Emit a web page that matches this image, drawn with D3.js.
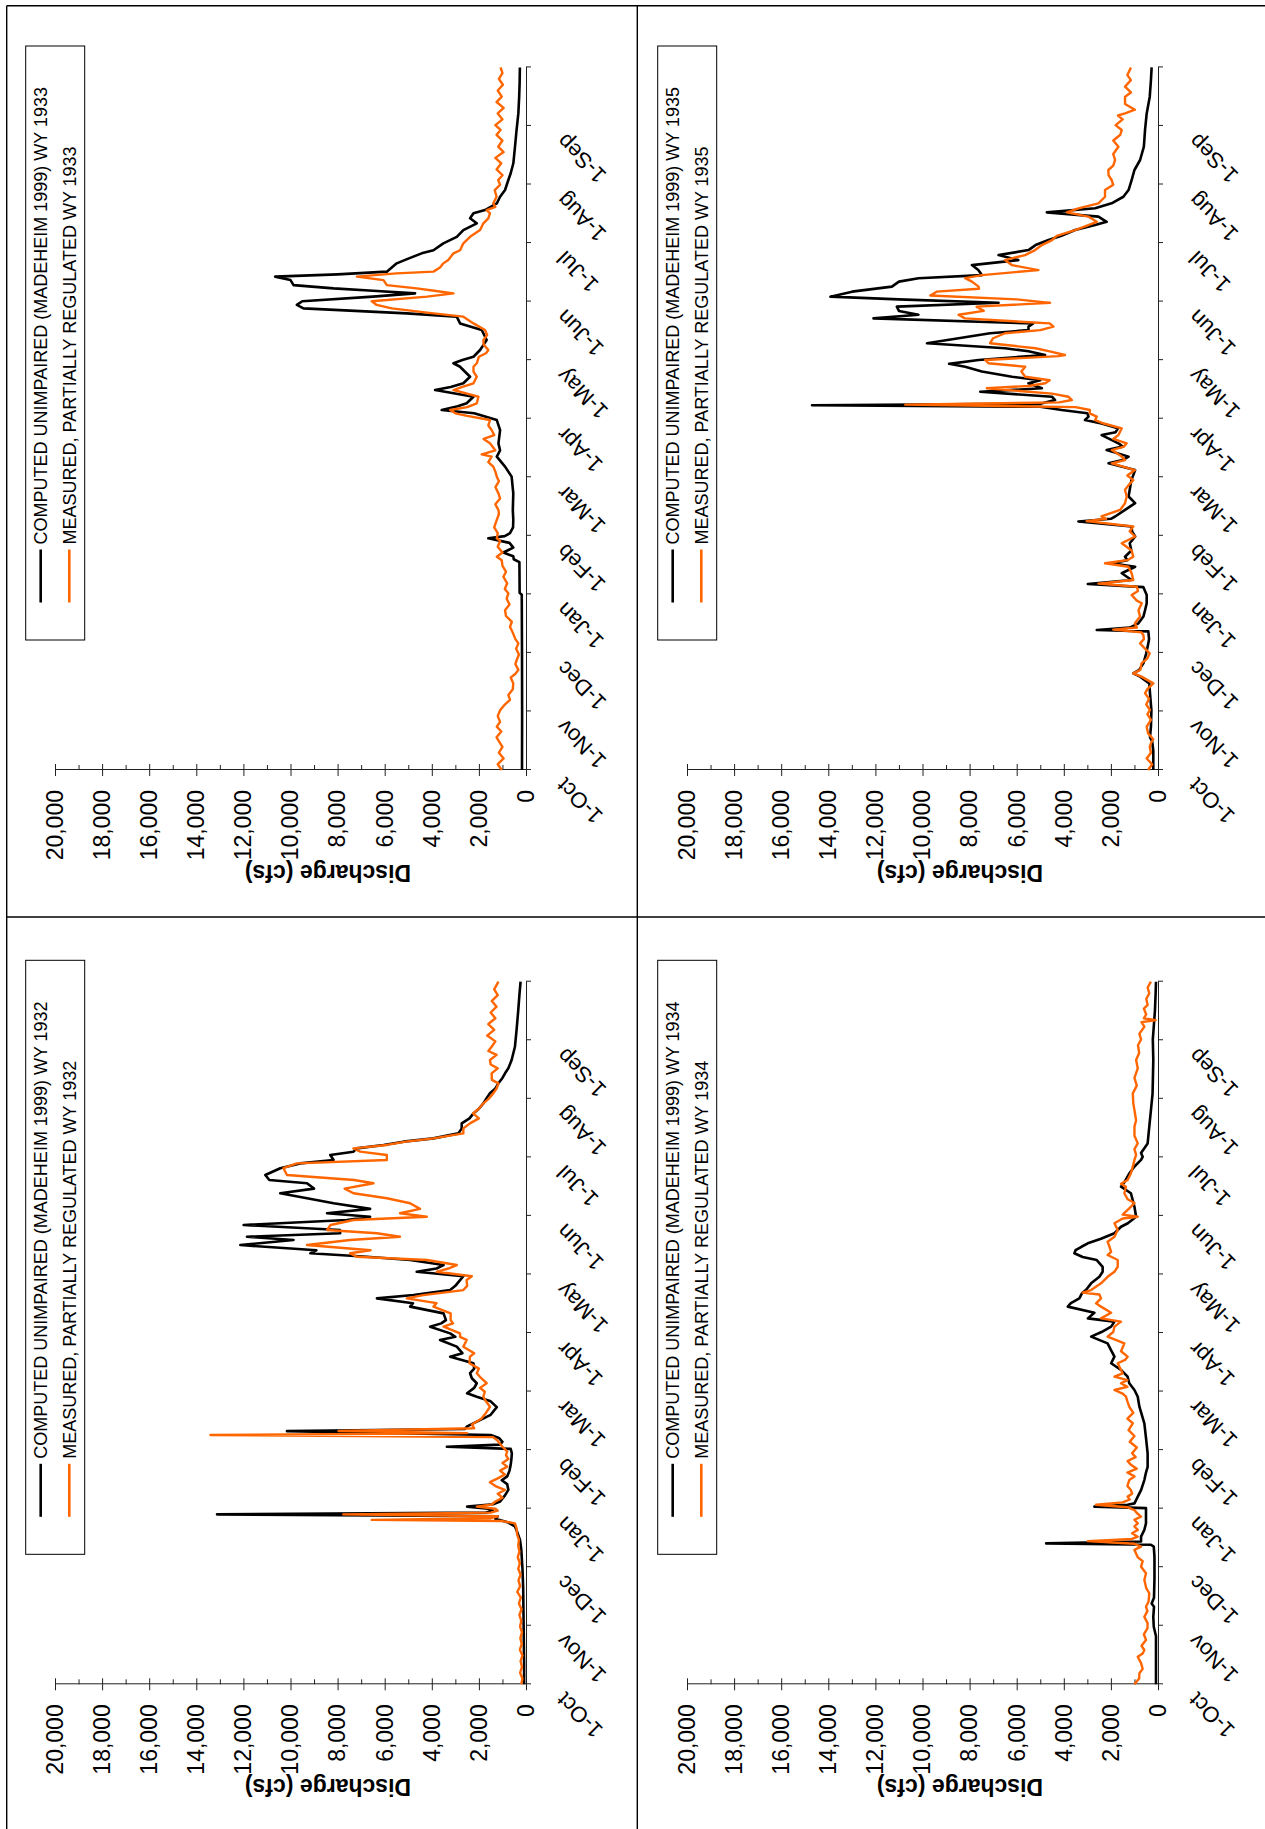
<!DOCTYPE html>
<html>
<head>
<meta charset="utf-8">
<script src="https://cdn.jsdelivr.net/npm/d3@7"></script>
<style>
  body { margin: 0; background: #fff; }
  svg { display: block; font-family: "Liberation Sans", Arial, sans-serif; }
</style>
</head>
<body>
<div id="chart"></div>
<script>
// daily discharge, [day of water year (0 = 1-Oct), cfs]
var unimpaired1932 = [[0,80],[10,80],[20,90],[30,100],[40,110],[50,120],[60,150],[70,200],[75,255],[80,400],[82,470],[84,750],[86,1300],[87.3,1200],[88.3,13120],[89.2,1700],[90.2,1400],[91.2,1600],[92.3,2500],[93.5,1400],[95,1100],[98,900],[101,750],[104,800],[106,1030],[108,800],[111,700],[114,650],[117,620],[120,600],[122.3,650],[123.4,3360],[124.5,1100],[126,1000],[128,1150],[129.5,1500],[131.5,10150],[132.6,2600],[134,2500],[137,2000],[140,1500],[144,1240],[147,1500],[149.4,2090],[151.2,2500],[154,2200],[156.4,2090],[159,2300],[161.6,2375],[164,2200],[166.8,2233],[170.2,3220],[172,2700],[175.4,2940],[178.9,3650],[180.5,3000],[182.3,3220],[185.8,4070],[187.5,3600],[189.2,3400],[192.7,3500],[196.2,4920],[198,4800],[200.5,6330],[202.2,4780],[204.8,3220],[207,3000],[210,2800],[212,2660],[214.3,4640],[216,3800],[217.8,3500],[220.4,4920],[222.1,6760],[223.9,9160],[225.5,8900],[228.2,12130],[230.8,9870],[232.5,11850],[234.3,7890],[236,7900],[238.6,11990],[241.2,7610],[242.9,6620],[244.7,8450],[247,6620],[249.9,8170],[252.5,9300],[255.1,10435],[257.5,9000],[260.3,9300],[262,10900],[264.6,11070],[268.1,10435],[270.6,9590],[272.4,8170],[275,8310],[276.7,7325],[278.4,7180],[280.2,6050],[281.9,5200],[283.6,3930],[286.2,2870],[288.8,2730],[291.4,2730],[294,2400],[296.6,2230],[299,2000],[301.8,1810],[304,1700],[307,1530],[309.5,1300],[312.2,1170],[315,1000],[317.4,890],[320,750],[324.3,610],[331.2,470],[340,400],[350,330],[358,280],[365,230]];

var measured1932 = [[0,200],[3,150],[6,250],[9,170],[12,230],[15,150],[18,260],[21,180],[24,240],[27,170],[30,250],[33,200],[36,280],[39,190],[42,300],[45,220],[48,370],[51,250],[54,320],[57,230],[60,330],[63,260],[66,350],[69,280],[72,330],[75,300],[78,380],[81,400],[83.6,470],[84.8,1000],[85.4,6550],[86.3,1500],[87.3,1200],[88.3,7760],[89.2,1500],[90.2,1200],[91.2,1300],[92.3,2090],[93.4,1450],[95,1300],[97,1000],[99,1200],[101,900],[103,1300],[105,1530],[107,1200],[109,900],[111,1100],[113,800],[115,1000],[117,750],[119,850],[121,800],[123.4,1000],[125,1100],[126.9,1240],[128.4,1400],[129.5,13400],[130.5,2500],[131.6,7960],[133,2200],[135,2300],[138,1900],[141,1700],[144.2,1530],[147,1700],[149.4,1810],[152,1750],[154,1950],[156.4,1670],[159,1900],[161.6,2090],[164,2000],[166.8,2400],[170.2,2380],[172,2200],[175.4,2660],[178.9,2520],[180.5,2800],[182.3,2800],[185.8,3500],[187.5,3100],[189.2,3200],[192.7,3200],[196.2,3930],[198,3800],[200.5,5060],[202.2,4360],[204.8,2660],[207,2500],[210,2520],[212,2300],[214.3,3790],[216,3300],[217.8,2940],[220.4,4200],[222.1,7180],[223.9,7470],[225.5,6600],[228.2,9300],[230.8,7470],[232.5,5350],[234.3,6330],[236,8450],[238.6,8300],[241.2,7325],[242.9,4210],[244.7,5350],[247,4500],[249.9,4920],[252.5,5910],[255.1,7325],[257.5,7700],[260.3,6475],[262,7300],[264.6,10150],[268.1,10300],[270.6,9730],[272.4,5910],[275,5910],[276.7,7040],[278.4,7325],[280.2,5900],[281.9,5100],[283.6,3930],[286.2,2660],[288.8,2660],[291.4,2380],[294,2000],[296.6,2250],[299,2000],[301.8,1810],[304,1600],[307,1390],[309.5,1250],[312.2,1170],[314,1450],[317.4,1460],[320,1200],[322,1500],[324.3,1530],[327,1250],[329,1600],[331.2,1460],[334,1300],[337,1650],[340,1350],[343,1600],[346,1300],[349,1500],[352,1250],[355,1450],[358,1200],[361,1350],[365,1170]];

var unimpaired1933 = [[0,170],[30,165],[60,170],[91,180],[92,270],[108,280],[109.5,520],[111,540],[113,960],[115.5,540],[118,700],[120.4,1600],[121.5,900],[123,680],[126,550],[130,540],[135,560],[143.7,540],[152.4,610],[157.6,890],[162.8,1240],[166,1100],[169.7,1170],[176.6,1100],[181.8,1240],[185.3,2200],[187,3580],[189,2900],[190.5,2520],[193.9,2230],[197.4,3860],[199,3200],[200.9,2660],[204.3,2375],[207,2600],[209.5,2800],[211.3,3080],[213,2700],[214.7,2230],[218.2,1950],[221,1800],[223.4,1670],[228.6,1880],[232,2800],[235.5,2940],[237.2,5060],[239.8,9450],[241.6,9730],[243.5,9500],[245.9,6500],[247.6,4710],[249,6500],[250.2,8170],[251.9,9870],[254.5,10000],[256.3,10650],[257.5,8000],[258.9,5910],[261,5700],[263.2,5490],[265,5130],[268.4,4430],[270,3930],[273.6,3510],[277,2940],[280.5,2660],[284,2090],[286.6,2375],[289.2,2230],[290.9,1740],[294.4,1240],[297.8,1100],[301.3,890],[306.5,750],[310,650],[315.2,537],[323.8,467],[332.5,400],[341.1,325],[349.8,290],[357,270],[365,260]];

var measured1933 = [[0,1030],[3,1200],[6,950],[9,1150],[12,1000],[14,1100],[17,1250],[20,1050],[22.5,1240],[25,1100],[28,1200],[31,1100],[34,900],[36.4,680],[39,750],[42,560],[45,540],[48,650],[50,450],[52,325],[55,450],[57,400],[60,300],[63,420],[65.8,325],[68,450],[71,550],[74.4,680],[77,600],[80,850],[83,890],[86,700],[89,820],[91.8,750],[94,900],[97,800],[100.4,960],[103,850],[106,1000],[109,1030],[110.8,1240],[113,1000],[116,1200],[119,1100],[120.4,1240],[123,1200],[126,1350],[129.9,1240],[133,1150],[135,1170],[138,1300],[141,1100],[143.7,1170],[147,1300],[150,1150],[152.4,1240],[155,1300],[157.6,1390],[160,1600],[162.8,1460],[164,1880],[166,1300],[169.7,1530],[172,1800],[174,1350],[176.6,1460],[179,1600],[181.8,1530],[184,2500],[185.3,3000],[187,3220],[188.5,2500],[190.5,2090],[193.9,2020],[195.5,2500],[197.4,3080],[199,2700],[200.9,2230],[204.3,2090],[207,2230],[209.5,2230],[211.3,2090],[214.7,2000],[216.5,1700],[218.2,1600],[221,1800],[223.4,1810],[226,1650],[228.6,1740],[232,2230],[235.5,2660],[237.2,3930],[239.8,5700],[241.6,6340],[243.5,6550],[245.9,4200],[247.6,3080],[249,3900],[250.2,4640],[251.9,5910],[254.5,6050],[256.3,7180],[258,5500],[258.9,3930],[261,3650],[263.2,3510],[265,3300],[268.4,3080],[270,2800],[273.6,2660],[277,2375],[280.5,1950],[284,1810],[286.6,1600],[289.2,1530],[290.9,1670],[292.5,1300],[294.4,1390],[297.8,1250],[301.3,1330],[304,1100],[306.5,1180],[309,1000],[312,1250],[315.2,1050],[318,1300],[321,950],[323.8,1180],[327,1000],[330,1250],[332.5,1080],[335,1300],[338,1000],[341.1,1200],[344,950],[347,1250],[349.8,1030],[353,1200],[356,980],[359,1150],[362,1000],[365,1080]];

var unimpaired1934 = [[0,85],[15,85],[25,85],[29.9,180],[35,200],[40.3,170],[42,270],[45,170],[55,150],[66.3,150],[71.5,180],[72.5,300],[73.2,4750],[74.2,720],[76.7,720],[80.2,580],[83.6,510],[87.1,510],[91.5,510],[92.3,2700],[93.3,1290],[94,1000],[97.5,860],[100.9,720],[106.1,580],[110,510],[113,440],[120,440],[128,510],[135.6,580],[144.2,790],[149.4,860],[152.9,1000],[156.4,1220],[159.8,1290],[163.3,1570],[166.8,1990],[170.2,1850],[173.5,1990],[177.1,2140],[180.6,2840],[183,2400],[185.8,1990],[188.4,1850],[190.1,2980],[193,2700],[196.2,3830],[198,3700],[200.5,3340],[203.1,3230],[205,3050],[208.3,2840],[211.7,2490],[214.3,2350],[216.9,2350],[220.4,2600],[222,3200],[223.9,3550],[225.5,3500],[227.3,3250],[229.1,2980],[231.5,2420],[234.3,1850],[237.7,1570],[239.5,1280],[242.9,930],[248.1,1000],[255.1,1150],[258.5,1570],[261,1420],[265.5,1210],[269,1000],[272.4,720],[274,650],[276,720],[281,440],[289.7,370],[298.3,300],[307,230],[324.3,200],[335,220],[341.6,180],[350,130],[359,100],[365,85]];

var measured1934 = [[0,1000],[3,800],[5.7,790],[8,650],[11,720],[14.3,860],[16,650],[17.8,580],[20,700],[23,510],[26,600],[29,450],[31.7,440],[35,580],[38,450],[40.3,510],[43,400],[47.3,370],[50,500],[54.2,580],[57.7,510],[61.1,720],[64,650],[66,860],[69.8,1000],[71.5,720],[73,1000],[74.4,2980],[75.5,1100],[76.7,860],[78.5,1100],[80.2,860],[82,1000],[83.6,860],[85.5,1000],[87.1,720],[89,900],[90.5,1000],[92,1300],[93.3,2630],[94.5,1500],[96,1200],[97.5,1290],[99,1100],[100.9,1150],[103,1300],[106.1,1220],[108,1000],[110,1300],[112,900],[114,1150],[116,1290],[118,950],[120,1100],[123,900],[126,1200],[129,1000],[132,1250],[135.6,1070],[138,1300],[141,1050],[144.2,1220],[147,1300],[149.4,1360],[151,1500],[152.9,1850],[154.5,1300],[156.4,1570],[158,1300],[159.8,1850],[161.5,1500],[163.3,1570],[166.8,1710],[168.5,1400],[170.2,1290],[173,1570],[175,1500],[177.1,1430],[180.6,2140],[183,1900],[185.8,1850],[188.4,1570],[190.1,2420],[193,1990],[196.2,2420],[197.9,2630],[200.5,2420],[202.5,2490],[203.5,3200],[204.8,2840],[208.3,2420],[211.7,2140],[214.3,1850],[216.9,1710],[220.4,1710],[223,2140],[224.7,1990],[227.3,2060],[229.9,2140],[232.5,1850],[236,1710],[239.5,1850],[242,1500],[242.9,860],[244,1500],[247.3,1220],[250,1000],[252,1290],[255.1,1430],[258.5,1360],[260,1570],[262,1290],[265.5,1150],[268.9,1070],[272.4,1000],[275,930],[278,1000],[281,860],[285,1000],[289.7,1000],[293,930],[298.3,1000],[302,1050],[307,1070],[311,900],[315,1000],[320,860],[324.3,930],[328,800],[332,850],[335,720],[338,790],[341.6,580],[344,700],[345,100],[346,600],[348,500],[351,600],[353,440],[356,500],[359,370],[362,440],[365,300]];

var unimpaired1935 = [[0,200],[5,200],[10,200],[15,250],[17,340],[22.5,300],[31,280],[40,340],[45,370],[48.5,760],[50.2,1050],[52,800],[55.4,620],[60.6,500],[65.8,410],[68,380],[72,410],[72.7,2600],[74,1200],[76.2,830],[79.7,620],[83,550],[86.6,480],[90.9,480],[95,620],[96.6,2980],[98.7,1120],[102.2,1540],[105.6,970],[107.4,1970],[109,1300],[110.8,1400],[114,1130],[117.8,1200],[121.3,970],[124,1100],[126.5,1130],[129.1,3380],[130.5,2000],[131.7,1820],[135.1,1400],[138.6,970],[142.1,1250],[145.6,1200],[150.6,1130],[155.8,970],[159.3,2100],[161,1500],[162.8,1250],[166.2,2180],[168,1500],[169.7,1680],[174,2390],[175.5,1800],[177.5,1700],[180,2400],[181.8,3100],[183.6,2950],[185.3,3000],[187,4090],[188.7,5000],[189.5,14690],[190.3,5000],[192.2,4370],[193.9,4500],[196.5,7550],[198.3,4930],[200.9,5500],[202.5,5000],[204.3,6200],[207,7480],[209.5,8190],[211,8870],[213,7620],[215.6,4790],[217.5,5500],[219.1,6490],[221.7,9810],[224.3,8470],[226.9,7130],[228.5,5500],[230.3,5500],[232,5300],[234.6,12080],[236.5,10170],[238.5,11000],[240.7,11090],[242.7,6770],[244.5,11000],[245.9,13910],[248.5,12990],[251.1,11300],[253.7,11000],[255.5,10170],[257.1,7480],[259.7,7630],[262.3,7900],[264.9,5930],[267.5,6770],[270.1,5500],[272.7,5200],[275.3,4650],[277.5,4100],[280.5,3520],[283.1,2670],[284.8,2180],[287.5,2530],[289.7,4720],[291.8,2670],[294.4,1970],[297.8,1470],[301.3,1250],[306.5,1120],[311.7,1000],[316.9,760],[323.8,600],[332.5,550],[341.1,480],[349.8,350],[358.4,300],[365,270]];

var measured1935 = [[0,420],[3,250],[6,480],[9,300],[12,350],[13.9,300],[16,200],[19,420],[22.5,480],[26,300],[29,450],[31.2,340],[34,500],[37,380],[39.8,550],[42,450],[45,200],[48.5,700],[50.2,1050],[52,750],[55.4,700],[58,450],[60.6,350],[63,550],[65.8,760],[68,600],[70,620],[71.5,700],[72.9,1900],[74,900],[76.2,980],[79.7,760],[83,830],[86.6,690],[88,900],[90.9,1120],[93,850],[95.2,900],[96.8,2530],[98.7,1050],[102.2,1120],[105.6,1260],[107.4,2250],[109,1300],[110.8,1050],[114,1120],[117.8,1540],[121.3,970],[124,1200],[126.5,1050],[129.3,3030],[130.5,2200],[131.7,2400],[135.1,1610],[138.6,1400],[142.1,1330],[145.6,1400],[148,1250],[150.6,1050],[153,1300],[155.8,980],[159.3,1960],[161,1400],[162.8,1540],[166.2,1960],[168,1450],[169.7,1330],[172,1900],[174,1680],[177.5,1540],[180,2300],[181.8,2670],[183.6,2600],[185.3,2900],[187,2890],[188.5,3500],[189.8,10730],[191,4200],[192.2,3660],[193.9,3800],[195.5,4500],[198.3,7270],[199.5,5500],[200.9,4790],[202.5,4600],[204.3,5640],[207,5800],[209.5,5640],[211.3,7200],[213,7340],[215,4230],[215.6,3950],[217.5,4600],[219.1,5200],[221.7,7130],[224.3,7000],[226.9,6500],[228.5,5000],[230.3,4440],[232,4600],[234.6,8200],[236.5,8470],[238.5,7400],[240.7,7700],[242.7,4580],[244.5,6000],[246.5,9670],[248.5,9400],[250,7600],[251.1,7620],[253.7,7900],[255.5,8190],[257.1,7480],[259.7,5080],[262.3,6210],[264.9,6500],[267.5,5640],[270.1,5220],[272.7,4930],[275.3,4500],[277.5,4300],[280.5,3520],[283.1,2960],[284.8,2600],[287.5,2960],[289.7,3870],[291.8,3380],[294.4,2530],[297.8,2250],[301.3,2250],[304,1900],[306.5,1970],[309,2100],[311.7,2110],[314,1900],[316.9,1820],[320,1900],[323.8,1680],[327,1900],[330,1600],[332.5,1540],[335,1800],[338,1500],[340,1700],[341.1,1400],[343,980],[346,1400],[349.8,1400],[352,1150],[355,1400],[358.4,1150],[361,1300],[365,1150]];

var monthLabels = ["1-Oct", "1-Nov", "1-Dec", "1-Jan", "1-Feb", "1-Mar", "1-Apr", "1-May", "1-Jun", "1-Jul", "1-Aug", "1-Sep"];
var dischargeTicks = [0, 2000, 4000, 6000, 8000, 10000, 12000, 14000, 16000, 18000, 20000];

// the page is laid out landscape (2 x 2 panels) and then turned a quarter left
var pageW = 1829;
var colX = [0, 914.3], rowY = [0, 632];
var plot = { left: 144.7, right: 847.3, top: 55, bottom: 526 };

var svg = d3.select("#chart")
    .append("svg")
    .attr("width", 1265)
    .attr("height", 1829);

var page = svg.append("g")
    .attr("transform", "translate(0," + pageW + ") rotate(-90)");

var panels = [
    { year: 1932, col: 0, row: 0, unimp: unimpaired1932, meas: measured1932 },
    { year: 1933, col: 1, row: 0, unimp: unimpaired1933, meas: measured1933 },
    { year: 1934, col: 0, row: 1, unimp: unimpaired1934, meas: measured1934 },
    { year: 1935, col: 1, row: 1, unimp: unimpaired1935, meas: measured1935 }
];

var x = d3.scaleLinear().domain([0, 365]).range([plot.left, plot.right]);
var y = d3.scaleLinear().domain([0, 20000]).range([plot.bottom, plot.top]);

var line = d3.line()
    .x(function (d) { return x(d[0]); })
    .y(function (d) { return y(d[1]); });

panels.forEach(function (p) {
    var g = page.append("g")
        .attr("transform", "translate(" + colX[p.col] + "," + rowY[p.row] + ")");

    // date axis, ticks every twelfth of the year
    var xAxis = d3.axisBottom(x)
        .tickValues(d3.range(13).map(function (i) { return i * 365 / 12; }))
        .tickSize(5)
        .tickSizeOuter(0)
        .tickFormat(function (d, i) { return i < 12 ? monthLabels[i] : ""; });
    g.append("g")
        .attr("transform", "translate(0," + plot.bottom + ")")
        .attr("font-size", null).attr("font-family", null)
        .call(xAxis)
        .call(function (s) {
            s.selectAll("path, line").attr("stroke", "#222");
            s.selectAll("text")
                .attr("x", 0).attr("y", 0).attr("dy", null)
                .attr("transform", "translate(-7,40) rotate(-45)")
                .style("text-anchor", "end")
                .style("font-size", "22px")
                .attr("fill", "#000");
        });

    // discharge axis: crossing major ticks, inside minor ticks
    var yMinor = d3.axisLeft(y)
        .tickValues(d3.range(1000, 20000, 2000))
        .tickSize(-5)
        .tickSizeOuter(0)
        .tickFormat("");
    g.append("g")
        .attr("transform", "translate(" + plot.left + ",0)")
        .call(yMinor)
        .call(function (s) {
            s.select(".domain").remove();
            s.selectAll("line").attr("stroke", "#222");
        });

    var yAxis = d3.axisLeft(y)
        .tickValues(dischargeTicks)
        .tickSize(6)
        .tickSizeOuter(0)
        .tickPadding(14)
        .tickFormat(d3.format(","));
    g.append("g")
        .attr("transform", "translate(" + plot.left + ",0)")
        .attr("font-size", null).attr("font-family", null)
        .call(yAxis)
        .call(function (s) {
            s.selectAll("path, line").attr("stroke", "#222");
            s.selectAll(".tick line").attr("x1", 6);
            s.selectAll("text").style("font-size", "23px").attr("fill", "#000");
        });

    // axis title
    g.append("text")
        .attr("transform", "translate(50,328) rotate(-90)")
        .style("text-anchor", "middle")
        .style("font-size", "23px")
        .style("font-weight", "bold")
        .text("Discharge (cfs)");

    // the two hydrographs
    g.append("path")
        .datum(p.unimp)
        .attr("d", line)
        .attr("fill", "none")
        .attr("stroke", "#000")
        .attr("stroke-width", 2.6)
        .attr("stroke-linejoin", "round");

    g.append("path")
        .datum(p.meas)
        .attr("d", line)
        .attr("fill", "none")
        .attr("stroke", "#ff6600")
        .attr("stroke-width", 2.4)
        .attr("stroke-linejoin", "round");

    // legend
    var legend = g.append("g").attr("transform", "translate(274.7,25.7)");
    legend.append("rect")
        .attr("width", 594).attr("height", 59)
        .attr("fill", "#fff").attr("stroke", "#000").attr("stroke-width", 1);
    var items = [
        { label: "COMPUTED UNIMPAIRED (MADEHEIM 1999) WY " + p.year, color: "#000", y: 15 },
        { label: "MEASURED, PARTIALLY REGULATED WY " + p.year, color: "#ff6600", y: 43.6 }
    ];
    items.forEach(function (it) {
        legend.append("line")
            .attr("x1", 37.5).attr("x2", 90.5)
            .attr("y1", it.y).attr("y2", it.y)
            .attr("stroke", it.color).attr("stroke-width", 2.6);
        legend.append("text")
            .attr("x", 95.5).attr("y", it.y + 6.5)
            .style("font-size", "18px")
            .text(it.label);
    });
});

// frame and dividers around the four panels
var frame = [
    [0, 6.7, 1823.3, 6.7],
    [1823.3, 6.7, 1823.3, 1270],
    [0, 637.3, 1823.3, 637.3],
    [912, 6.7, 912, 1270]
];
page.selectAll(".frame")
    .data(frame)
    .enter()
    .append("line")
    .attr("class", "frame")
    .attr("x1", function (d) { return d[0]; })
    .attr("y1", function (d) { return d[1]; })
    .attr("x2", function (d) { return d[2]; })
    .attr("y2", function (d) { return d[3]; })
    .attr("stroke", "#000")
    .attr("stroke-width", 1.4);
</script>
</body>
</html>
